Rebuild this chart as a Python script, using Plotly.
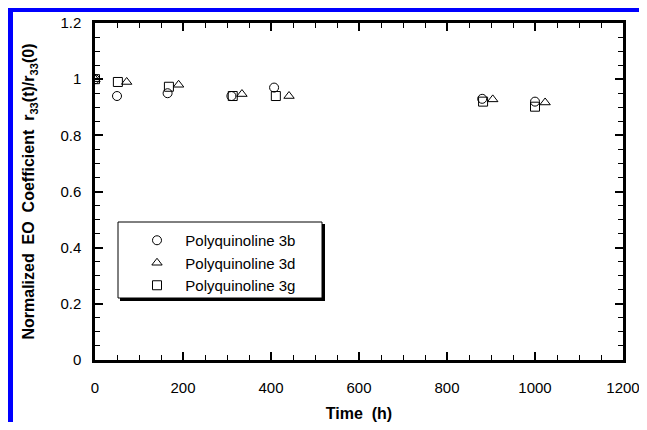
import plotly.graph_objects as go

# Data
time_3b = [0, 50, 165, 310, 407, 880, 1000]
eo_3b = [1.0, 0.94, 0.95, 0.94, 0.97, 0.93, 0.92]
time_3d = [0, 72, 190, 334, 441, 904, 1023]
eo_3d = [1.0, 0.99, 0.98, 0.947, 0.94, 0.928, 0.917]
time_3g = [0, 52, 168, 313, 411, 882, 1000]
eo_3g = [1.0, 0.99, 0.973, 0.94, 0.94, 0.92, 0.902]

series_names = ["Polyquinoline 3b", "Polyquinoline 3d", "Polyquinoline 3g"]
x_ticks = [0, 200, 400, 600, 800, 1000, 1200]
y_ticks = [0, 0.2, 0.4, 0.6, 0.8, 1, 1.2]

# page body has an 8px margin; reference pixel coords include it
OFF = 8
W, H = 647 - 2 * OFF, 430 - 2 * OFF
L, R, T, B = 95, 623, 23, 360  # plot area in reference (screen) pixels

def px(x):
    return (x - L) / (R - L)

def py(y):
    return (B - y) / (B - T)

FONT = "Liberation Sans, Arial, Helvetica, sans-serif"

fig = go.Figure()
symbols = ["circle-open", "triangle-up-open", "square-open"]
for name, xs, ys, sym in zip(series_names, [time_3b, time_3d, time_3g],
                             [eo_3b, eo_3d, eo_3g], symbols):
    fig.add_trace(go.Scatter(
        x=xs, y=ys, mode="markers", name="\u00a0\u00a0" + name,
        marker=dict(symbol=sym, size=9, color="black", line=dict(width=1, color="black")),
    ))

axis_common = dict(
    showline=True, linecolor="black", linewidth=2.5, mirror="allticks",
    ticks="inside", ticklen=8, tickwidth=1.5, tickcolor="black",
    showgrid=False, zeroline=False, automargin=False,
    ticklabeloverflow="allow",
    tickfont=dict(family=FONT, size=15, color="black"),
)

fig.update_xaxes(
    range=[0, 1200], tickvals=x_ticks, ticktext=[str(v) for v in x_ticks],
    minor=dict(dtick=50, tick0=0, ticks="inside", ticklen=5, tickwidth=1, tickcolor="black"),
    title=dict(text="<b>Time\u00a0\u00a0(h)</b>", font=dict(family=FONT, size=16, color="black"), standoff=15),
    ticklabelstandoff=12,
    **axis_common,
)
fig.update_yaxes(
    range=[0, 1.2], tickvals=y_ticks, ticktext=["0", "0.2", "0.4", "0.6", "0.8", "1", "1.2"],
    minor=dict(dtick=0.05, tick0=0, ticks="inside", ticklen=5, tickwidth=1, tickcolor="black"),
    title=dict(text="<b>Normalized\u00a0\u00a0EO\u00a0\u00a0Coefficient\u00a0\u00a0r<sub>33</sub>(t)/r<sub>33</sub>(0)</b>",
               font=dict(family=FONT, size=16, color="black"), standoff=22),
    ticklabelstandoff=8,
    **axis_common,
)

shapes = [
    # blue border (top and left)
    dict(type="rect", xref="paper", yref="paper", x0=px(8), x1=px(660), y0=py(12), y1=py(7),
         fillcolor="#0000ff", line=dict(width=0), layer="above"),
    dict(type="rect", xref="paper", yref="paper", x0=px(8), x1=px(13), y0=py(440), y1=py(7),
         fillcolor="#0000ff", line=dict(width=0), layer="above"),
    # legend shadow and box
    dict(type="rect", xref="paper", yref="paper", x0=px(120), x1=px(325), y0=py(301), y1=py(224),
         fillcolor="black", line=dict(width=0), layer="below"),
    dict(type="rect", xref="paper", yref="paper", x0=px(118), x1=px(322), y0=py(298), y1=py(222),
         fillcolor="white", line=dict(width=1, color="black"), layer="below"),
]

fig.update_layout(
    width=W, height=H,
    margin=dict(l=L - OFF, r=(W + OFF) - R, t=T - OFF, b=(H + OFF) - B),
    paper_bgcolor="white", plot_bgcolor="white",
    font=dict(family=FONT, color="black"),
    shapes=shapes,
    showlegend=True,
    legend=dict(
        x=px(137), y=py(224), xanchor="left", yanchor="top",
        bgcolor="rgba(0,0,0,0)", borderwidth=0,
        font=dict(family=FONT, size=15, color="black"),
        tracegroupgap=0,
    ),
)

fig.write_html("out.html")
